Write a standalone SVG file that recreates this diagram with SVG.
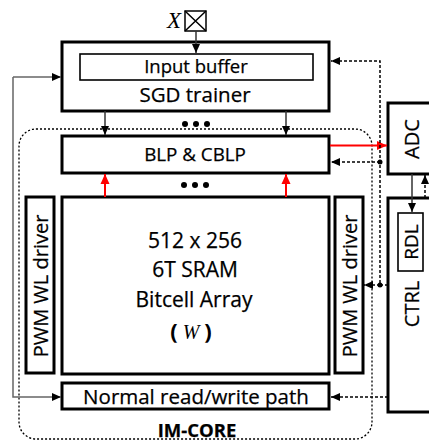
<svg xmlns="http://www.w3.org/2000/svg" width="429" height="441" viewBox="0 0 429 441">
<style>
.box{fill:#fff;stroke:#000;stroke-width:3}
.thin{fill:#fff;stroke:#000;stroke-width:1.6}
.t{font-family:"Open Sans",sans-serif;fill:#000;text-anchor:middle;stroke:#000;stroke-width:0.25}
.sol{fill:none;stroke:#333;stroke-width:1.5}
.gry{fill:none;stroke:#666;stroke-width:1.5}
.dsh{fill:none;stroke:#000;stroke-width:1.5;stroke-dasharray:3 2}
.red{fill:none;stroke:#f00;stroke-width:2}
</style>
<defs>
<marker id="ab" markerUnits="userSpaceOnUse" markerWidth="10" markerHeight="10" refX="9" refY="5" orient="auto"><path d="M0,1 L9,5 L0,9 Z" fill="#000"/></marker>
<marker id="ar" markerUnits="userSpaceOnUse" markerWidth="11" markerHeight="11" refX="10" refY="5.5" orient="auto"><path d="M0,1 L10,5.5 L0,10 Z" fill="#f00"/></marker>
</defs>
<g id="im-core">
<rect x="19" y="129" width="353" height="310" rx="17" fill="none" stroke="#000" stroke-width="1.3" stroke-dasharray="2 2"/>
<text class="t" x="197" y="437" font-size="18.5" font-weight="bold">IM-CORE</text>
</g>
<g id="x-input">
<rect x="185" y="11" width="21" height="20" fill="#fff" stroke="#000" stroke-width="1.5"/>
<path d="M185,11 L206,31 M206,11 L185,31" stroke="#000" stroke-width="1.5"/>
<text x="174" y="28" font-family="Liberation Serif,serif" font-style="italic" font-size="23" text-anchor="middle">X</text>
</g>
<g id="sgd-trainer">
<rect class="box" x="62" y="42" width="267" height="69"/>
<rect class="thin" x="80" y="54" width="233" height="26"/>
<text class="t" x="196" y="73" font-size="18.5">Input buffer</text>
<text class="t" x="195" y="102" font-size="20.5">SGD trainer</text>
</g>
<g id="blp-cblp">
<rect class="box" x="62" y="136" width="267" height="37"/>
<text class="t" x="195" y="161" font-size="18.8">BLP &amp; CBLP</text>
</g>
<g id="bitcell-array">
<rect class="box" x="62" y="197" width="267" height="177"/>
<text class="t" x="195" y="248" font-size="21">512 x 256</text>
<text class="t" x="195" y="277" font-size="21">6T SRAM</text>
<text class="t" x="194" y="307" font-size="21">Bitcell Array</text>
<text x="191" y="339" font-size="22" text-anchor="middle" font-family="Open Sans,sans-serif" font-weight="bold">(<tspan font-family="Liberation Serif,serif" font-style="italic" font-weight="normal" font-size="20"> W </tspan>)</text>
</g>
<g id="pwm-left">
<rect class="box" x="26" y="197" width="28" height="176"/>
<text class="t" transform="translate(40,286) rotate(-90)" dominant-baseline="central" font-size="20">PWM WL driver</text>
</g>
<g id="pwm-right">
<rect class="box" x="335" y="197" width="28" height="176"/>
<text class="t" transform="translate(349,286) rotate(-90)" dominant-baseline="central" font-size="20">PWM WL driver</text>
</g>
<g id="normal-rw">
<rect class="box" x="62" y="383" width="267" height="26"/>
<text class="t" x="196" y="404" font-size="20.5">Normal read/write path</text>
</g>
<g id="adc">
<rect class="box" x="388" y="103" width="50" height="71"/>
<text class="t" transform="translate(411,139) rotate(-90)" dominant-baseline="central" font-size="20">ADC</text>
</g>
<g id="ctrl">
<rect class="box" x="388" y="198" width="50" height="214"/>
<text class="t" transform="translate(411,304) rotate(-90)" dominant-baseline="central" font-size="20">CTRL</text>
</g>
<g id="rdl">
<rect class="thin" x="398" y="213" width="25" height="58"/>
<text class="t" transform="translate(410.5,242) rotate(-90)" dominant-baseline="central" font-size="19">RDL</text>
</g>
<g id="connectors">
<path class="sol" d="M196,31 V53" marker-end="url(#ab)"/>
<path class="sol" d="M105,111 V135" marker-end="url(#ab)"/>
<path class="sol" d="M286,111 V135" marker-end="url(#ab)"/>
<path class="red" d="M105,197 V174" marker-end="url(#ar)"/>
<path class="red" d="M286,197 V174" marker-end="url(#ar)"/>
<path class="red" d="M330,145.5 H387" stroke-width="1.5" marker-end="url(#ar)"/>
<path class="gry" d="M13,77 V397 H61" marker-end="url(#ab)"/>
<path class="gry" d="M13,77 H61" marker-end="url(#ab)"/>
<path class="dsh" d="M388,285 H380 V61 H331" marker-end="url(#ab)"/>
<path class="dsh" d="M380,162 H331" marker-end="url(#ab)"/>
<path class="dsh" d="M380,285 H364" marker-end="url(#ab)"/>
<path class="dsh" d="M388,397 H331" marker-end="url(#ab)"/>
<path class="dsh" d="M425,198 V175" marker-end="url(#ab)"/>
<path class="sol" d="M412,174 V212" stroke="#000" marker-end="url(#ab)"/>
<circle cx="380" cy="162" r="2.5" fill="#000"/>
<circle cx="380" cy="285" r="2.5" fill="#000"/>
<g fill="#000">
<circle cx="185" cy="124" r="3"/><circle cx="196" cy="124" r="3"/><circle cx="207" cy="124" r="3"/>
<circle cx="184" cy="185" r="3"/><circle cx="195" cy="185" r="3"/><circle cx="206" cy="185" r="3"/>
</g>
</g>
</svg>
